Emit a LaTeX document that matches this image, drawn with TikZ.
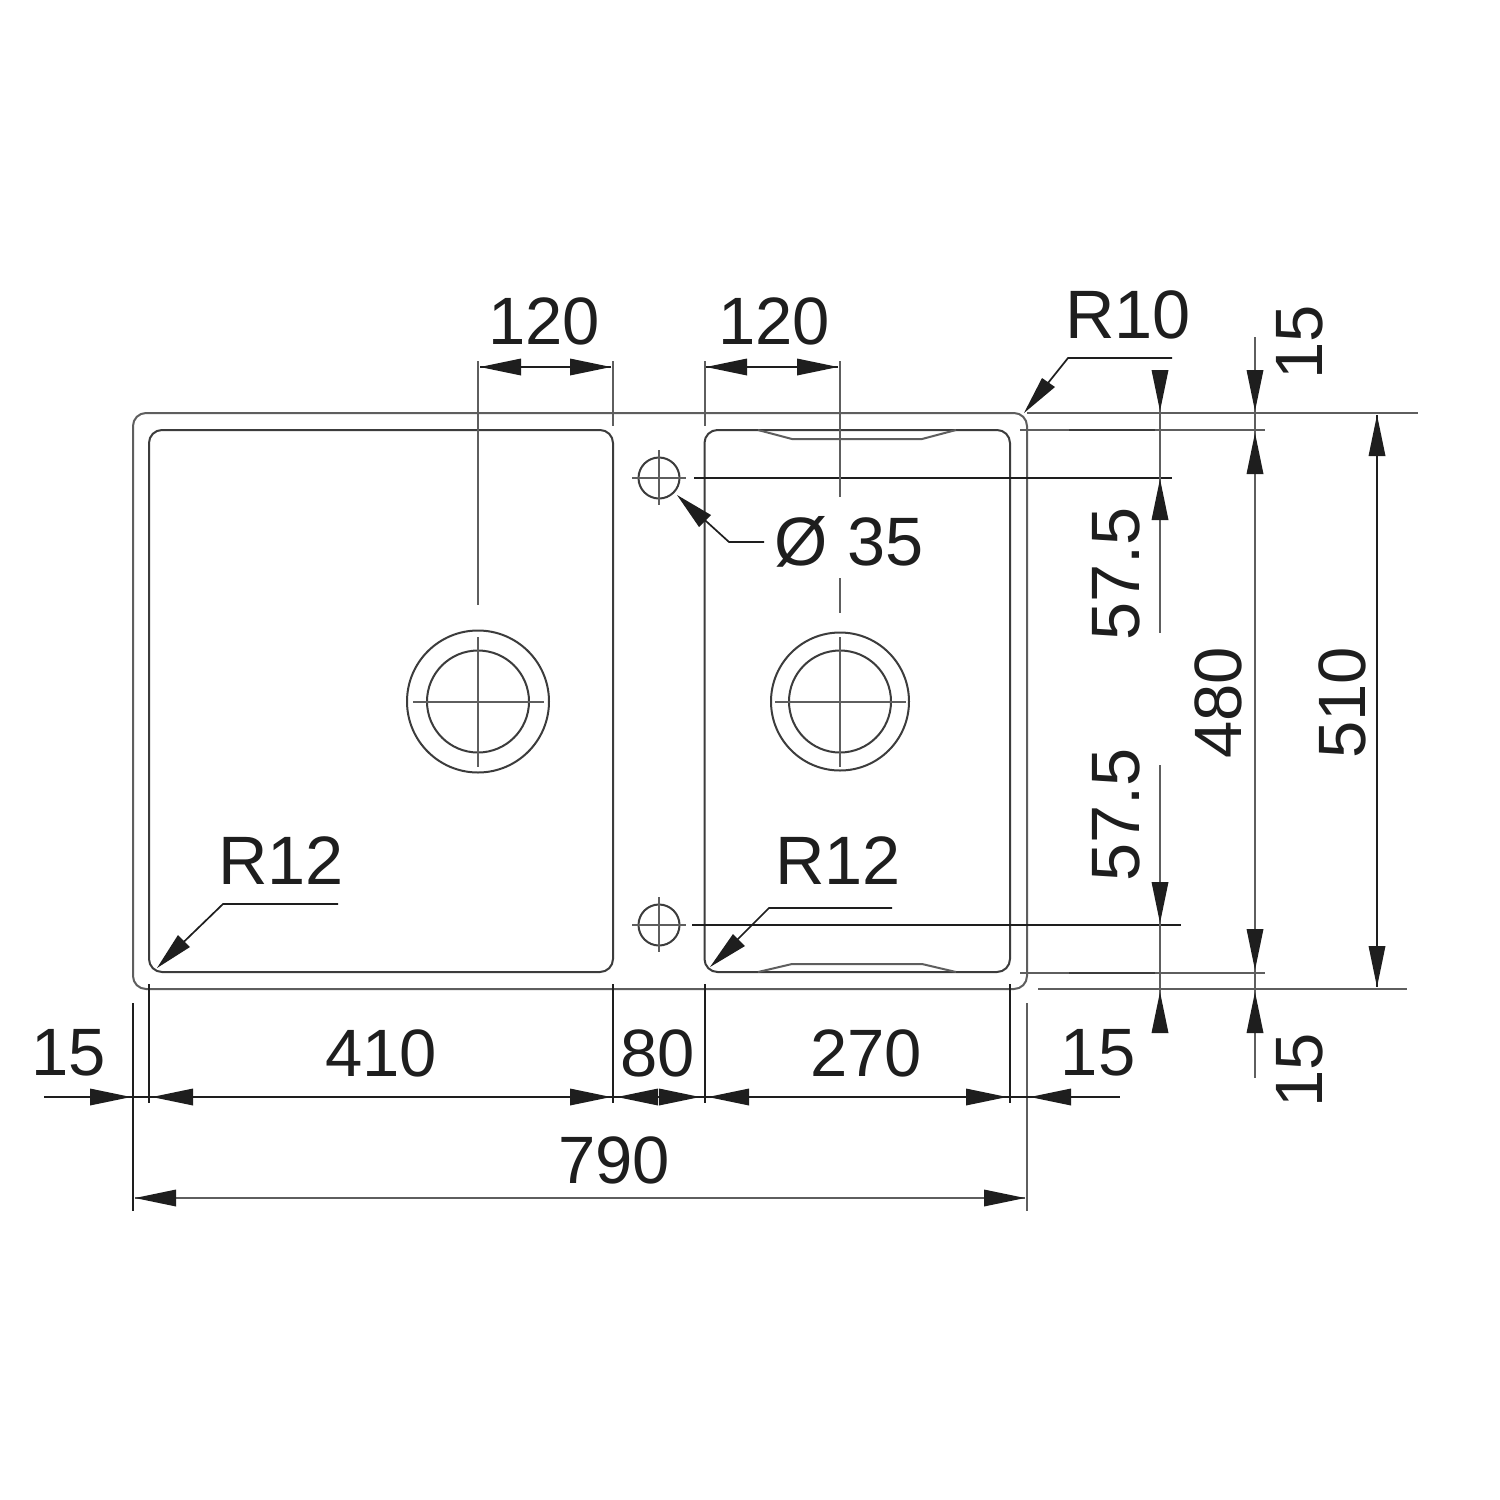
\documentclass[tikz,border=0pt]{standalone}
\usepackage{fontspec}
\setmainfont{Liberation Sans}
\definecolor{ink}{HTML}{1E1E1E}
\definecolor{edge}{HTML}{3C3C3C}
\definecolor{soft}{HTML}{5E5E5E}
\newcommand\hdR[2]{\fill[ink] (#1,#2) -- (#1-41,#2-8.5) -- (#1-41,#2+8.5) -- cycle;}
\newcommand\hdL[2]{\fill[ink] (#1,#2) -- (#1+41,#2-8.5) -- (#1+41,#2+8.5) -- cycle;}
\newcommand\hdD[2]{\fill[ink] (#1,#2) -- (#1-8.5,#2-41) -- (#1+8.5,#2-41) -- cycle;}
\newcommand\hdU[2]{\fill[ink] (#1,#2) -- (#1-8.5,#2+41) -- (#1+8.5,#2+41) -- cycle;}
\tikzset{
  dimtext/.style={text=ink,inner sep=0pt,font=\fontsize{67}{67}\selectfont},
  bigtext/.style={text=ink,inner sep=0pt,font=\fontsize{68.5}{68.5}\selectfont},
  vdimtext/.style={dimtext,rotate=90},
  vbigtext/.style={bigtext,rotate=90},
  part/.style={draw=edge,line width=2pt},
  fine/.style={draw=soft,line width=2pt},
  guide/.style={draw=ink,line width=2pt},
}
\begin{document}
\begin{tikzpicture}[x=1pt,y=-1pt]
\useasboundingbox[fill=white] (0,0) rectangle (1500,1500);
% sink outline
\draw[fine,rounded corners=13pt] (133,413) rectangle (1027,989);
\draw[part,rounded corners=13pt] (149,430) rectangle (613,972);
\draw[part,rounded corners=13pt] (704.5,430) rectangle (1010,972);
\draw[fine] (758,430) -- (792,439) -- (922,439) -- (956,430);
\draw[fine] (758,972) -- (792,964) -- (922,964) -- (956,972);
% top extension of the outline and rim to the right
\draw[fine] (1027,413) -- (1418,413);
\draw[fine] (1038,989) -- (1407,989);
\draw[fine] (1020,430) -- (1265,430);
\draw[fine] (1020,973) -- (1265,973);
\draw[edge,line width=2.5pt] (1069,430) -- (1155,430);
\draw[edge,line width=2.5pt] (1069,973) -- (1155,973);
% tap holes
\draw[part] (659,478) circle (20.5);
\draw[fine] (632,478) -- (686,478) (659,450) -- (659,505);
\draw[part] (659,925) circle (20.5);
\draw[fine] (632,925) -- (686,925) (659,897) -- (659,952);
\draw[guide] (694,478) -- (1172,478);
\draw[guide] (692,925) -- (1181,925);
% drains
\draw[part] (478,701.5) circle (71);
\draw[part] (478,701.5) circle (51);
\draw[fine] (413,701.5) -- (544,701.5) (478,637) -- (478,767);
\draw[part] (840,701.5) circle (69);
\draw[part] (840,701.5) circle (51);
\draw[fine] (775,701.5) -- (906,701.5) (840,637) -- (840,767);
% top dimensions
\draw[fine] (478,361) -- (478,605);
\draw[fine] (613,361) -- (613,426);
\draw[fine] (704.5,361) -- (704.5,426);
\draw[fine] (840,361) -- (840,497);
\draw[fine] (840,578) -- (840,613);
\draw[guide] (480,367) -- (611,367);
\hdL{480}{367}\hdR{611}{367}
\draw[guide] (706,367) -- (838,367);
\hdL{706}{367}\hdR{838}{367}
% bottom extension lines
\draw[guide] (133,1003) -- (133,1211);
\draw[guide] (149,984) -- (149,1103);
\draw[guide] (613,984) -- (613,1103);
\draw[guide] (704.5,984) -- (704.5,1103);
\draw[guide] (1010,984) -- (1010,1103);
\draw[fine] (1027,1003) -- (1027,1211);
% bottom dimensions
\draw[guide] (44,1097) -- (1120,1097);
\hdR{131}{1097}\hdL{152}{1097}\hdR{611}{1097}\hdL{617}{1097}\hdR{700}{1097}\hdL{708}{1097}\hdR{1007}{1097}\hdL{1030}{1097}
\draw[fine] (135,1198) -- (1025,1198);
\hdL{135}{1198}\hdR{1025}{1198}
% right dimensions
\draw[fine] (1160,372) -- (1160,633);
\hdD{1160}{411}\hdU{1160}{479}
\draw[fine] (1160,765) -- (1160,1032);
\hdD{1160}{923}\hdU{1160}{992}
\draw[fine] (1255,337) -- (1255,1078);
\hdD{1255}{411}\hdU{1255}{433}\hdD{1255}{970}\hdU{1255}{992}
\draw[guide] (1377,415) -- (1377,987);
\hdU{1377}{415}\hdD{1377}{987}
% radius leaders
\draw[guide,line width=1.7pt] (1032,403) -- (1068,358) -- (1172,358);
\fill[ink] (1024,413) -- (1042,378) -- (1055,387) -- cycle;
\draw[guide,line width=1.7pt] (165,960) -- (223,904) -- (338,904);
\fill[ink] (157,968) -- (178,935) -- (190,947) -- cycle;
\draw[guide,line width=1.7pt] (718,959) -- (769,908) -- (892,908);
\fill[ink] (710,967) -- (733,934) -- (745,946) -- cycle;
\draw[guide,line width=1.7pt] (685,502) -- (729,542) -- (764,542);
\fill[ink] (677,495) -- (711,515) -- (699,527) -- cycle;
% labels
\node[dimtext] (a) at (544,321) {120};
\node[dimtext] (b) at (774,321) {120};
\node[bigtext] (c) at (1128,315) {R10};
\node[vdimtext] (d) at (1300,342) {15};
\node[vbigtext] (e) at (1116,574) {57.5};
\node[vdimtext] (f) at (1218,703) {480};
\node[vdimtext] (g) at (1342,703) {510};
\node[vbigtext] (h) at (1116,815) {57.5};
\node[vdimtext] (i) at (1300,1070) {15};
\node[bigtext] (j) at (849,542) {Ø 35};
\node[bigtext] (k) at (281,861) {R12};
\node[bigtext] (l) at (838,861) {R12};
\node[dimtext] (m) at (68.5,1053) {15};
\node[dimtext] (n) at (381,1053) {410};
\node[dimtext] (o) at (658,1053) {80};
\node[dimtext] (p) at (866,1053) {270};
\node[dimtext] (q) at (1098,1053) {15};
\node[dimtext] (r) at (614,1160) {790};
\end{tikzpicture}
\end{document}
